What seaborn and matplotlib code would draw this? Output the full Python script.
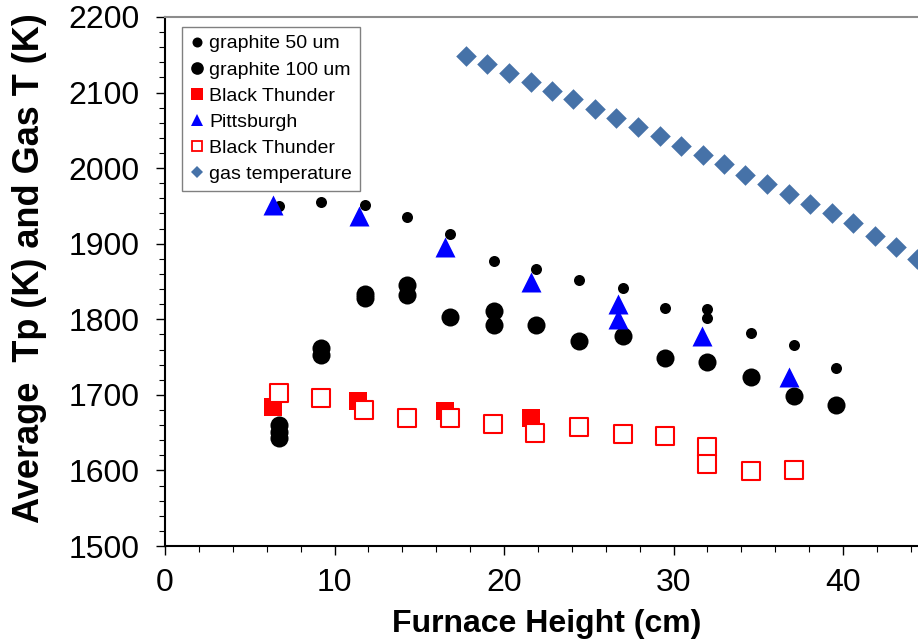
import matplotlib
matplotlib.use('Agg')
import matplotlib.pyplot as plt
from matplotlib.lines import Line2D
from matplotlib.ticker import MultipleLocator
import pandas as pd
import seaborn as sns

# ---------------- data ----------------
g50_x = [6.7, 9.2, 11.8, 14.3, 16.8, 19.4, 21.9, 24.4, 27.0, 29.5, 32.0, 32.0, 34.6, 37.1, 39.6]
g50_y = [1950, 1955, 1951, 1935, 1913, 1877, 1866, 1852, 1842, 1815, 1813, 1802, 1782, 1766, 1735]

g100_x = [6.7, 6.7, 6.7, 9.2, 9.2, 11.8, 11.8, 14.3, 14.3, 16.8, 19.4, 19.4, 21.9, 24.4,
          27.0, 29.5, 32.0, 34.6, 37.1, 39.6]
g100_y = [1660, 1651, 1643, 1762, 1753, 1834, 1828, 1845, 1832, 1803, 1811, 1793, 1792, 1771,
          1778, 1749, 1743, 1724, 1698, 1686]

btf_x = [6.35, 11.4, 16.5, 21.6]
btf_y = [1684, 1692, 1679, 1670]

pitt_x = [6.4, 11.45, 16.5, 21.6, 26.7, 26.7, 31.7, 36.8]
pitt_y = [1951, 1937, 1896, 1850, 1820, 1800, 1778, 1723]

bto_x = [6.7, 9.2, 11.75, 14.3, 16.8, 19.35, 21.85, 24.4, 27.0, 29.5, 32.0, 32.0, 34.6, 37.1]
bto_y = [1702, 1696, 1680, 1670, 1669, 1661, 1650, 1658, 1648, 1645, 1631, 1608, 1599, 1601]

gas_x = [17.76, 19.02, 20.3, 21.57, 22.83, 24.1, 25.37, 26.63, 27.93, 29.18, 30.44, 31.72,
         32.98, 34.24, 35.52, 36.8, 38.05, 39.33, 40.59, 41.87, 43.13, 44.35]
gas_y = [2148, 2138, 2126, 2114, 2102, 2091, 2078, 2067, 2054, 2042, 2029, 2017,
         2005, 1991, 1979, 1966, 1953, 1940, 1928, 1910, 1895, 1880]

labels = ['graphite 50 um', 'graphite 100 um', 'Black Thunder', 'Pittsburgh',
          'Black Thunder', 'gas temperature']
x_ticks = [0, 10, 20, 30, 40]
y_ticks = [1500, 1600, 1700, 1800, 1900, 2000, 2100, 2200]

RED = '#FF0000'
BLUE = '#0000FF'
GAS = '#4672A8'

# ---------------- style ----------------
sns.set_style('ticks')
plt.rcParams['font.family'] = ['Liberation Sans', 'DejaVu Sans']
plt.rcParams['text.color'] = 'black'
plt.rcParams['axes.labelcolor'] = 'black'
plt.rcParams['xtick.color'] = 'black'
plt.rcParams['ytick.color'] = 'black'

fig = plt.figure(figsize=(9.18, 6.4), dpi=100)
ax = fig.add_axes([165 / 918, 94 / 640, 762.75 / 918, 529 / 640])


def df(x, y):
    return pd.DataFrame({'x': x, 'y': y})


sns.scatterplot(data=df(g50_x, g50_y), x='x', y='y', ax=ax, color='black', marker='o',
                s=63, linewidth=0, legend=False, zorder=3)
sns.scatterplot(data=df(g100_x, g100_y), x='x', y='y', ax=ax, color='black', marker='o',
                s=169, linewidth=0, legend=False, zorder=3)
sns.scatterplot(data=df(btf_x, btf_y), x='x', y='y', ax=ax, color=RED, marker='s',
                s=187, linewidth=0, legend=False, zorder=3)
sns.scatterplot(data=df(pitt_x, pitt_y), x='x', y='y', ax=ax, color=BLUE, marker='^',
                s=207, linewidth=0, legend=False, zorder=3)
sns.scatterplot(data=df(bto_x, bto_y), x='x', y='y', ax=ax, marker='s', s=150,
                facecolor='white', edgecolor=RED, linewidth=1.5, legend=False, zorder=3)
sns.scatterplot(data=df(gas_x, gas_y), x='x', y='y', ax=ax, color=GAS, marker='D',
                s=110, linewidth=0, legend=False, zorder=3)

ax.set_xlim(0, 45)
ax.set_ylim(1500, 2200)
ax.set_xticks(x_ticks)
ax.set_yticks(y_ticks)
ax.xaxis.set_minor_locator(MultipleLocator(2))
ax.yaxis.set_minor_locator(MultipleLocator(20))
ax.tick_params(axis='both', which='major', direction='out', length=6.5, width=1.0,
               labelsize=23, color='black', labelcolor='black')
ax.tick_params(axis='both', which='minor', direction='out', length=4, width=0.8, color='black')
ax.tick_params(axis='x', which='major', pad=9)
ax.tick_params(axis='y', which='major', pad=12)

for side in ['left', 'bottom']:
    ax.spines[side].set_color('black')
    ax.spines[side].set_linewidth(1.5)
for side in ['top', 'right']:
    ax.spines[side].set_visible(True)
    ax.spines[side].set_color('#8c8c8c')
    ax.spines[side].set_linewidth(1.5)

ax.set_xlabel('Furnace Height (cm)', fontsize=23, fontweight='bold', labelpad=8)
ax.set_ylabel('Average  Tp (K) and Gas T (K)', fontsize=26, fontweight='bold')
ax.yaxis.set_label_coords((47 - 165) / 762.75, (546 - 268) / 529)

handles = [
    Line2D([], [], ls='none', marker='o', ms=7.2, mfc='black', mec='black', mew=0),
    Line2D([], [], ls='none', marker='o', ms=9.1, mfc='black', mec='black', mew=0),
    Line2D([], [], ls='none', marker='s', ms=9.0, mfc=RED, mec=RED, mew=0),
    Line2D([], [], ls='none', marker='^', ms=8.5, mfc=BLUE, mec=BLUE, mew=0),
    Line2D([], [], ls='none', marker='s', ms=7.0, mfc='white', mec=RED, mew=1.3),
    Line2D([], [], ls='none', marker='D', ms=6.5, mfc=GAS, mec=GAS, mew=0),
]
leg = ax.legend(handles, labels, loc='upper left',
                bbox_to_anchor=((182 - 165) / 762.75, 1 - (27 - 17) / 529),
                borderaxespad=0, fontsize=14, frameon=True, fancybox=False,
                edgecolor='#808080', framealpha=1, handlelength=0.7,
                handletextpad=0.3, labelspacing=0.44, borderpad=0.4)
leg.get_frame().set_linewidth(1.0)

fig.savefig('out.png', dpi=100)
